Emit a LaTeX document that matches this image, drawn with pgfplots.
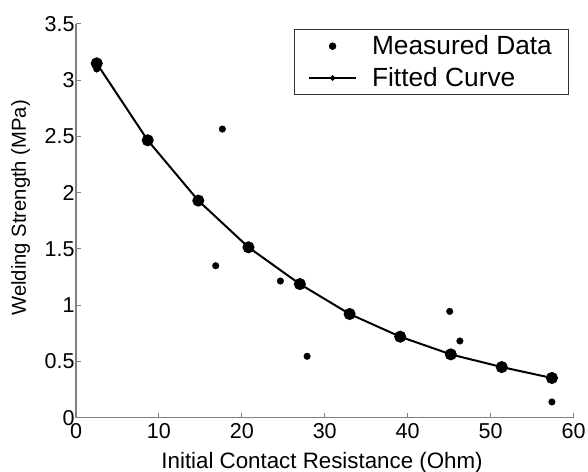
\documentclass[border=0pt]{standalone}
\usepackage{fontspec}
\setmainfont{Liberation Sans}
\usepackage{pgfplots}
\pgfplotsset{compat=1.18}
\begin{document}
\begin{tikzpicture}
\begin{axis}[
  scale only axis,
  width=497.5bp, height=393.7bp,
  xmin=0, xmax=60, ymin=0, ymax=3.5,
  xtick={0,10,...,60},
  ytick={0,0.5,1,1.5,2,2.5,3,3.5},
  axis lines*=left,
  axis line style={draw=black!50, line width=1.2bp},
  tick style={draw=black!50, line width=1bp},
  tick align=inside,
  major tick length=5bp,
  /pgf/number format/assume math mode=true,
  ticklabel style={font=\fontsize{21.6}{24}\selectfont},
  yticklabel style={xshift=2bp},
  xticklabel style={yshift=-1.8bp},
  xlabel={Initial Contact Resistance (Ohm)},
  ylabel={Welding Strength (MPa)},
  xlabel style={font=\fontsize{22.4}{24}\selectfont, at={(rel axis cs:0.5,0)}, anchor=base, yshift=-50.3bp, xshift=-2.7bp},
  ylabel style={font=\fontsize{20.3}{24}\selectfont, at={(rel axis cs:0,0.533)}, anchor=base, rotate=0, yshift=50bp},
  legend style={at={(1,1)}, anchor=north east, xshift=-5.2bp, yshift=-5bp,
    draw=black!80, line width=0.8bp, font=\fontsize{26.4}{28}\selectfont,
    inner xsep=14bp, inner ysep=4.5bp, row sep=7.3bp,
    /tikz/every odd column/.append style={column sep=13bp}},
  legend cell align=left,
  clip=false,
]
\coordinate (bl) at (rel axis cs:0,0);
\coordinate (tr) at (rel axis cs:1,1);
\addplot[only marks, mark=*, mark size=3.3bp, black,
  legend image code/.code={\fill[black] (23.5bp,0bp) circle (3.3bp);}]
  coordinates {
  (2.5,3.10) (17.65,2.566) (16.85,1.351) (24.65,1.215) (27.87,0.546)
  (45.07,0.945) (46.3,0.682) (57.4,0.14)
};
\addlegendentry{Measured Data}
\addplot[black, line width=2bp, mark=*, mark size=5bp,
  legend image code/.code={\draw[black, line width=2bp] (0bp,0bp) -- (47bp,0bp); \fill[black] (23.5bp,0bp) circle (1.5bp);}]
  coordinates {
  (2.5,3.15) (8.65,2.466) (14.75,1.93) (20.8,1.515) (27.0,1.188)
  (33.0,0.922) (39.1,0.72) (45.2,0.563) (51.35,0.45) (57.4,0.353)
};
\addlegendentry{Fitted Curve}
\end{axis}
\pgfresetboundingbox
\path[use as bounding box] ([xshift=-76bp,yshift=-54.3bp]bl) rectangle ([xshift=14.5bp,yshift=24bp]tr);
\end{tikzpicture}
\end{document}
